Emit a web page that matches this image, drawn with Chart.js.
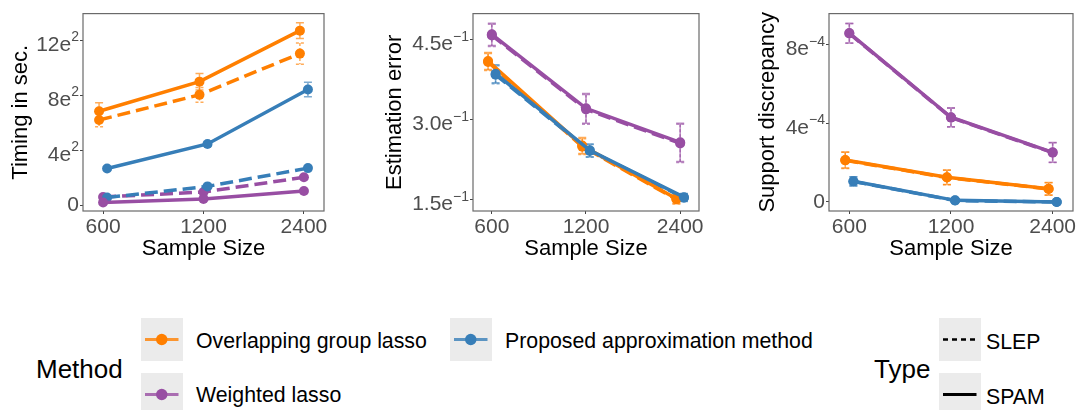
<!DOCTYPE html>
<html>
<head>
<meta charset="utf-8">
<script src="https://cdn.jsdelivr.net/npm/chart.js@4.4.1/dist/chart.umd.min.js"></script>
<style>
  body { margin: 0; background: #fff; font-family: "Liberation Sans", Arial, sans-serif; }
  #wrap { position: relative; width: 1080px; height: 410px; overflow: hidden; }
  .panel { position: absolute; top: 0; height: 265px; }
  .lg { position: absolute; color: #000; white-space: nowrap; }
  .lg-title { font-size: 26px; line-height: 30px; }
  .lg-text { font-size: 21.3px; line-height: 26px; }
  .key { position: absolute; width: 41.5px; height: 43px; background: #ebebeb; }
</style>
</head>
<body>
<div id="wrap">
  <div class="panel" style="left:0;width:345px"><canvas id="timingChart"></canvas></div>
  <div class="panel" style="left:360px;width:360px"><canvas id="errorChart"></canvas></div>
  <div class="panel" style="left:720px;width:360px"><canvas id="supportChart"></canvas></div>

  <div class="lg lg-title" style="left:36px;top:354px">Method</div>
  <div class="key" style="left:141px;top:318px"><svg width="41.5" height="43"><line x1="4" y1="21.5" x2="37.5" y2="21.5" stroke="#FF7F00" stroke-opacity="0.8" stroke-width="3"/><circle cx="20.75" cy="21.5" r="5.7" fill="#FF7F00"/></svg></div>
  <div class="lg lg-text" style="left:196px;top:328px">Overlapping group lasso</div>
  <div class="key" style="left:141px;top:373px"><svg width="41.5" height="43"><line x1="4" y1="21.5" x2="37.5" y2="21.5" stroke="#984EA3" stroke-opacity="0.8" stroke-width="3"/><circle cx="20.75" cy="21.5" r="5.7" fill="#984EA3"/></svg></div>
  <div class="lg lg-text" style="left:196px;top:382px">Weighted lasso</div>
  <div class="key" style="left:450px;top:318px"><svg width="41.5" height="43"><line x1="4" y1="21.5" x2="37.5" y2="21.5" stroke="#377EB8" stroke-opacity="0.8" stroke-width="3"/><circle cx="20.75" cy="21.5" r="5.7" fill="#377EB8"/></svg></div>
  <div class="lg lg-text" style="left:505px;top:328px">Proposed approximation method</div>

  <div class="lg lg-title" style="left:874px;top:354px">Type</div>
  <div class="key" style="left:939px;top:318px"><svg width="41.5" height="43"><line x1="4" y1="21.5" x2="37.5" y2="21.5" stroke="#000" stroke-width="2.5" stroke-dasharray="5 4"/></svg></div>
  <div class="lg lg-text" style="left:986px;top:329px">SLEP</div>
  <div class="key" style="left:939px;top:373px"><svg width="41.5" height="43"><line x1="4" y1="21.5" x2="37.5" y2="21.5" stroke="#000" stroke-width="3"/></svg></div>
  <div class="lg lg-text" style="left:986px;top:384px">SPAM</div>
</div>

<script>
const sampleSizes = [600, 1200, 2400];

// Timing in seconds
const timingOverlapSpam = [683, 898, 1269];
const timingOverlapSpamErr = [61, 60, 58];
const timingOverlapSlep = [619, 802, 1102];
const timingOverlapSlepErr = [50, 53, 78];
const timingProposedSpam = [266, 445, 841];
const timingProposedSpamErr = [12, 15, 53];
const timingProposedSlep = [55, 136, 269];
const timingProposedSlepErr = [8, 10, 15];
const timingWeightedSpam = [19, 45, 102];
const timingWeightedSpamErr = [5, 5, 6];
const timingWeightedSlep = [59, 95, 202];
const timingWeightedSlepErr = [6, 8, 12];
const timingTicks = [0, 400, 800, 1200];
const timingTickBase = ['0', '4e', '8e', '12e'];
const timingTickExp = ['', '2', '2', '2'];

// Estimation error
const estOverlapSpam = [0.410, 0.251, 0.151];
const estOverlapSpamErr = [0.016, 0.015, 0.009];
const estOverlapSlep = [0.408, 0.249, 0.150];
const estOverlapSlepErr = [0.016, 0.015, 0.009];
const estProposedSpam = [0.386, 0.242, 0.154];
const estProposedSpamErr = [0.017, 0.012, 0.007];
const estProposedSlep = [0.384, 0.241, 0.153];
const estProposedSlepErr = [0.017, 0.012, 0.007];
const estWeightedSpam = [0.460, 0.321, 0.257];
const estWeightedSpamErr = [0.021, 0.028, 0.036];
const estWeightedSlep = [0.458, 0.319, 0.255];
const estWeightedSlepErr = [0.021, 0.028, 0.036];
const estTicks = [0.15, 0.30, 0.45];
const estTickBase = ['1.5e', '3.0e', '4.5e'];
const estTickExp = ['\u22121', '\u22121', '\u22121'];

// Support discrepancy
const supOverlapSpam = [2.13e-4, 1.25e-4, 0.67e-4];
const supOverlapSpamErr = [0.41e-4, 0.37e-4, 0.32e-4];
const supOverlapSlep = [2.11e-4, 1.24e-4, 0.66e-4];
const supOverlapSlepErr = [0.41e-4, 0.37e-4, 0.32e-4];
const supProposedSpam = [1.05e-4, 0.08e-4, 0.0];
const supProposedSpamErr = [0.23e-4, 0.05e-4, 0.03e-4];
const supProposedSlep = [1.04e-4, 0.07e-4, 0.0];
const supProposedSlepErr = [0.23e-4, 0.05e-4, 0.03e-4];
const supWeightedSpam = [8.57e-4, 4.30e-4, 2.52e-4];
const supWeightedSpamErr = [0.5e-4, 0.48e-4, 0.5e-4];
const supWeightedSlep = [8.55e-4, 4.28e-4, 2.50e-4];
const supWeightedSlepErr = [0.5e-4, 0.48e-4, 0.5e-4];
const supTicks = [0, 4e-4, 8e-4];
const supTickBase = ['0', '4e', '8e'];
const supTickExp = ['', '\u22124', '\u22124'];

const colors = { overlap: '#FF7F00', weighted: '#984EA3', proposed: '#377EB8' };
const errColors = { overlap: 'rgba(255,127,0,0.65)', weighted: 'rgba(152,78,163,0.65)', proposed: 'rgba(55,126,184,0.65)' };
const dodge = { overlap: -0.04, weighted: 0, proposed: 0.04 };
const drawOrder = { proposed: 1, overlap: 2, weighted: 3 };

function series(method, type, values, err) {
    const slep = type === 'SLEP';
    return {
        label: method + ' ' + type,
        data: values.map((v, i) => ({ x: i + dodge[method], y: v })),
        err: err,
        errColor: errColors[method],
        errDash: slep ? [3, 2] : [],
        borderColor: colors[method],
        backgroundColor: colors[method],
        borderWidth: 3.5,
        borderDash: slep ? [13, 6] : [],
        pointRadius: 5,
        pointHoverRadius: 5,
        pointBorderWidth: 0,
        tension: 0,
        order: slep ? drawOrder[method] + 10 : drawOrder[method]
    };
}

// error bars drawn under the lines
const errorBars = {
    id: 'errorBars',
    beforeDatasetsDraw(chart) {
        const ctx = chart.ctx;
        const xs = chart.scales.x, ys = chart.scales.y;
        chart.data.datasets.forEach(ds => {
            if (!ds.err) return;
            ctx.save();
            ctx.strokeStyle = ds.errColor;
            ctx.lineWidth = 1.5;
            ctx.setLineDash(ds.errDash);
            ds.data.forEach((p, i) => {
                const x = xs.getPixelForValue(p.x);
                const top = ys.getPixelForValue(p.y + ds.err[i]);
                const bot = ys.getPixelForValue(p.y - ds.err[i]);
                ctx.beginPath();
                ctx.moveTo(x, top); ctx.lineTo(x, bot);
                ctx.moveTo(x - 4, top); ctx.lineTo(x + 4, top);
                ctx.moveTo(x - 4, bot); ctx.lineTo(x + 4, bot);
                ctx.stroke();
            });
            ctx.restore();
        });
    }
};

// full box round the plot area, and y tick labels with real superscripts
const panelBorder = {
    id: 'panelBorder',
    afterDraw(chart, args, opts) {
        const { ctx, chartArea: a } = chart;
        ctx.save();
        ctx.strokeStyle = '#6a6a6a';
        ctx.lineWidth = 1.2;
        ctx.strokeRect(a.left, a.top, a.right - a.left, a.bottom - a.top);

        const ys = chart.scales.y;
        const right = a.left - 4;
        ctx.fillStyle = '#4d4d4d';
        ctx.textBaseline = 'middle';
        ctx.textAlign = 'left';
        opts.ticks.forEach((v, i) => {
            const y = ys.getPixelForValue(v);
            const base = opts.base[i], exp = opts.exp[i];
            ctx.font = '14px "Liberation Sans"';
            const ew = exp ? ctx.measureText(exp).width : 0;
            ctx.font = '21px "Liberation Sans"';
            const bw = ctx.measureText(base).width;
            if (exp) {
                ctx.fillText(base, right - ew - bw, y + 5);
                ctx.font = '14px "Liberation Sans"';
                ctx.fillText(exp, right - ew, y - 2.5);
            } else {
                ctx.fillText(base, right - bw, y);
            }
        });
        ctx.restore();
    }
};

function makeChart(id, datasets, yMin, yMax, yTicks, yBase, yExp, yTitle, yWidth, titlePad, rightPad) {
    const ctx = document.getElementById(id).getContext('2d');
    return new Chart(ctx, {
        type: 'line',
        data: { datasets: datasets },
        options: {
            responsive: true,
            maintainAspectRatio: false,
            animation: false,
            layout: { padding: { top: 9, right: rightPad, left: 0, bottom: 0 } },
            plugins: {
                legend: { display: false },
                tooltip: { enabled: false },
                panelBorder: { ticks: yTicks, base: yBase, exp: yExp }
            },
            scales: {
                x: {
                    type: 'linear',
                    min: -0.2,
                    max: 2.2,
                    afterBuildTicks: s => { s.ticks = sampleSizes.map((_, i) => ({ value: i })); },
                    afterFit: s => { s.height = 54; },
                    ticks: {
                        callback: (v, i) => String(sampleSizes[i]),
                        color: '#4d4d4d',
                        font: { family: 'Liberation Sans', size: 21 },
                        padding: 1,
                        maxRotation: 0,
                        autoSkip: false
                    },
                    grid: { drawOnChartArea: false, tickLength: 3, tickColor: '#444' },
                    border: { display: false },
                    title: { display: true, text: 'Sample Size', color: '#000', font: { family: 'Liberation Sans', size: 22 }, padding: { top: 0, bottom: 3 } }
                },
                y: {
                    type: 'linear',
                    min: yMin,
                    max: yMax,
                    afterBuildTicks: s => { s.ticks = yTicks.map(v => ({ value: v })); },
                    afterFit: s => { s.width = yWidth; },
                    ticks: {
                        callback: () => '',
                        font: { family: 'Liberation Sans', size: 21 },
                        padding: 1
                    },
                    grid: { drawOnChartArea: false, tickLength: 3, tickColor: '#444' },
                    border: { display: false },
                    title: { display: true, text: yTitle, color: '#000', font: { family: 'Liberation Sans', size: 22 }, padding: { top: titlePad, bottom: 0 } }
                }
            }
        },
        plugins: [errorBars, panelBorder]
    });
}

makeChart('timingChart', [
    series('overlap', 'SPAM', timingOverlapSpam, timingOverlapSpamErr),
    series('overlap', 'SLEP', timingOverlapSlep, timingOverlapSlepErr),
    series('proposed', 'SPAM', timingProposedSpam, timingProposedSpamErr),
    series('proposed', 'SLEP', timingProposedSlep, timingProposedSlepErr),
    series('weighted', 'SPAM', timingWeightedSpam, timingWeightedSpamErr),
    series('weighted', 'SLEP', timingWeightedSlep, timingWeightedSlepErr)
], -43, 1393, timingTicks, timingTickBase, timingTickExp, 'Timing in sec.', 83, 8, 21);

makeChart('errorChart', [
    series('overlap', 'SPAM', estOverlapSpam, estOverlapSpamErr),
    series('overlap', 'SLEP', estOverlapSlep, estOverlapSlepErr),
    series('proposed', 'SPAM', estProposedSpam, estProposedSpamErr),
    series('proposed', 'SLEP', estProposedSlep, estProposedSlepErr),
    series('weighted', 'SPAM', estWeightedSpam, estWeightedSpamErr),
    series('weighted', 'SLEP', estWeightedSlep, estWeightedSlepErr)
], 0.128, 0.499, estTicks, estTickBase, estTickExp, 'Estimation error', 113, 22, 21);

makeChart('supportChart', [
    series('overlap', 'SPAM', supOverlapSpam, supOverlapSpamErr),
    series('overlap', 'SLEP', supOverlapSlep, supOverlapSlepErr),
    series('proposed', 'SPAM', supProposedSpam, supProposedSpamErr),
    series('proposed', 'SLEP', supProposedSlep, supProposedSlepErr),
    series('weighted', 'SPAM', supWeightedSpam, supWeightedSpamErr),
    series('weighted', 'SLEP', supWeightedSlep, supWeightedSlepErr)
], -0.46e-4, 9.56e-4, supTicks, supTickBase, supTickExp, 'Support discrepancy', 109, 35, 7);
</script>
</body>
</html>
